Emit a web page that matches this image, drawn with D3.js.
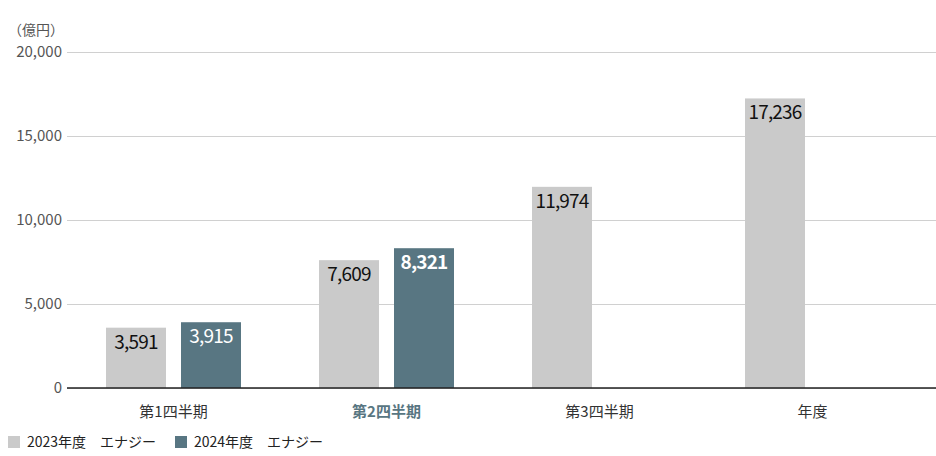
<!DOCTYPE html>
<html>
<head>
<meta charset="utf-8">
<script src="https://cdn.jsdelivr.net/npm/d3@7"></script>
<style>
  body { margin: 0; background: #fff; }
  svg text { font-family: "Noto Sans CJK JP", "Noto Sans", sans-serif; }
</style>
</head>
<body>
<div id="chart"></div>
<script>
const categories = ['第1四半期', '第2四半期', '第3四半期', '年度'];
const seriesNames = ['2023年度　エナジー', '2024年度　エナジー'];
const values2023 = [3591, 7609, 11974, 17236];
const values2024 = [3915, 8321, null, null];
const yTicks = [0, 5000, 10000, 15000, 20000];
const highlight = '第2四半期';

const colors = ['#cacaca', '#587682'];
const width = 936, height = 456;
const plotLeft = 67, plotRight = 919, plotTop = 52, plotBottom = 388;

const svg = d3.select('#chart').append('svg')
        .attr('width', width)
        .attr('height', height);

const x0 = d3.scaleBand().domain(categories).range([plotLeft, plotRight]);
const x1 = d3.scaleBand().domain([0, 1]).range([39, 174]).paddingInner(0.2);
const y = d3.scaleLinear().domain([0, 20000]).range([plotBottom, plotTop]);

// grid + tick labels
const yAxis = svg.append('g')
        .attr('transform', `translate(${plotLeft},0)`)
        .call(d3.axisLeft(y).tickValues(yTicks).tickSize(-(width - plotLeft)).tickFormat(d3.format(',')));
yAxis.select('.domain').remove();
yAxis.selectAll('.tick line').attr('stroke', '#d0d0d0').attr('stroke-width', 1);
yAxis.selectAll('.tick text')
        .attr('x', -5)
        .attr('fill', '#555')
        .attr('font-size', 15);

svg.append('text')
        .attr('x', 64).attr('y', 35)
        .attr('text-anchor', 'end')
        .attr('fill', '#555')
        .attr('font-size', 14)
        .text('（億円）');

const rows = categories.map((c, i) => ({ cat: c, vals: [values2023[i], values2024[i]] }));

const groups = svg.append('g').selectAll('g')
        .data(rows)
        .join('g')
        .attr('transform', d => `translate(${x0(d.cat)},0)`);

const cells = groups.selectAll('g')
        .data(d => d.vals.map((v, s) => ({ v, s, cat: d.cat })).filter(e => e.v != null))
        .join('g');

cells.append('rect')
        .attr('x', d => x1(d.s))
        .attr('width', x1.bandwidth())
        .attr('y', d => y(d.v))
        .attr('height', d => y(0) - y(d.v))
        .attr('fill', d => colors[d.s]);

cells.append('text')
        .attr('x', d => x1(d.s) + x1.bandwidth() / 2)
        .attr('y', d => y(d.v) + 21)
        .attr('text-anchor', 'middle')
        .attr('font-size', 19)
        .attr('letter-spacing', -0.8)
        .attr('font-weight', d => d.s === 1 && d.cat === highlight ? 'bold' : 'normal')
        .attr('fill', d => d.s === 1 ? '#fff' : '#111')
        .text(d => d3.format(',')(d.v));

// baseline
svg.append('line')
        .attr('x1', plotLeft).attr('x2', width)
        .attr('y1', y(0)).attr('y2', y(0))
        .attr('stroke', '#222').attr('stroke-width', 1.5);

// category labels
svg.append('g').selectAll('text')
        .data(categories)
        .join('text')
        .attr('x', d => x0(d) + x0.bandwidth() / 2)
        .attr('y', 417)
        .attr('text-anchor', 'middle')
        .attr('font-size', 15)
        .attr('font-weight', d => d === highlight ? 'bold' : 'normal')
        .attr('fill', d => d === highlight ? '#587682' : '#333')
        .text(d => d);

// legend
const legendX = [8, 175];
const legend = svg.append('g').selectAll('g')
        .data(seriesNames)
        .join('g')
        .attr('transform', (d, i) => `translate(${legendX[i]},436)`);
legend.append('rect')
        .attr('width', 12).attr('height', 12)
        .attr('fill', (d, i) => colors[i]);
legend.append('text')
        .attr('x', 19).attr('y', 11)
        .attr('font-size', 14)
        .attr('fill', '#222')
        .text(d => d);
</script>
</body>
</html>
